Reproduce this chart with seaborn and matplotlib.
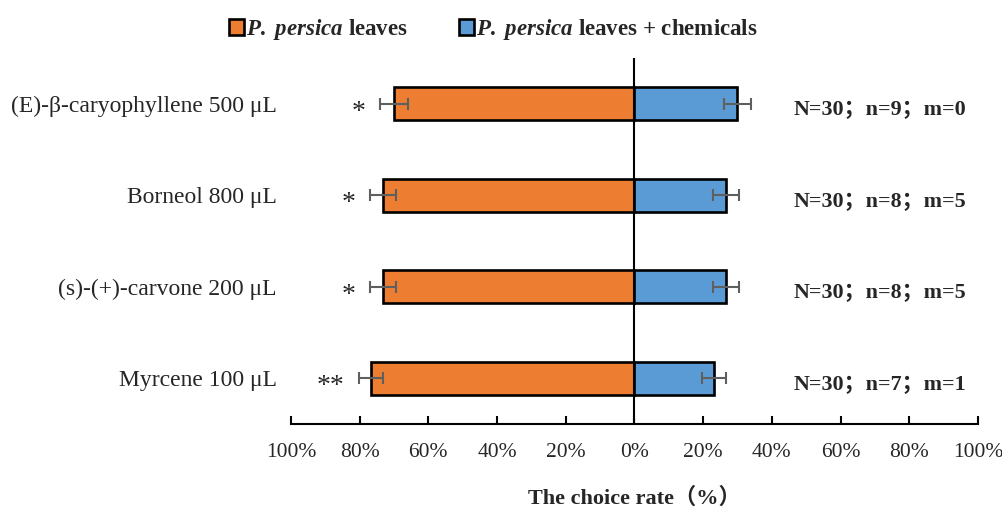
import matplotlib
matplotlib.use("Agg")
import matplotlib.pyplot as plt
import seaborn as sns
import pandas as pd

# Choice-rate data (%) for each tested compound
treatments = ["(E)-β-caryophyllene 500 μL", "Borneol 800 μL",
              "(s)-(+)-carvone 200 μL", "Myrcene 100 μL"]
leaves_rate = [70.0, 73.3, 73.3, 76.7]
leaves_err = [4.0, 3.8, 3.8, 3.4]
chem_rate = [30.0, 26.7, 26.7, 23.3]
chem_err = [4.0, 3.8, 3.8, 3.5]
signif = ["*", "*", "*", "**"]
counts = ["N=30；n=9；m=0", "N=30；n=8；m=5",
          "N=30；n=8；m=5", "N=30；n=7；m=1"]
group_labels = [r"$P.$ $persica$ leaves", r"$P.$ $persica$ leaves + chemicals"]
tick_vals = [-100, -80, -60, -40, -20, 0, 20, 40, 60, 80, 100]

sns.set_style("white")
plt.rcParams["font.family"] = ["Liberation Serif", "Noto Sans CJK SC"]
plt.rcParams["mathtext.fontset"] = "custom"
plt.rcParams["mathtext.it"] = "Liberation Serif:italic:bold"
plt.rcParams["mathtext.rm"] = "Liberation Serif:bold"
plt.rcParams["mathtext.bf"] = "Liberation Serif:bold"

ORANGE = "#ED7D31"
BLUE = "#5B9BD5"

df = pd.DataFrame({
    "treatment": treatments * 2,
    "rate": [-v for v in leaves_rate] + chem_rate,
    "group": [group_labels[0]] * 4 + [group_labels[1]] * 4,
})

fig = plt.figure(figsize=(10.03, 5.14), dpi=100)
ax = fig.add_axes([0.290, 0.175, 0.685, 0.712])

sns.barplot(data=df, x="rate", y="treatment", hue="group", dodge=False,
            orient="h", palette=[ORANGE, BLUE], saturation=1, edgecolor="black",
            linewidth=1.9, width=0.36, errorbar=None, ax=ax)

ypos = list(range(len(treatments)))
ax.errorbar([-v for v in leaves_rate], ypos, xerr=leaves_err, fmt="none",
            ecolor="#5f5f5f", elinewidth=1.5, capsize=4.5, capthick=1.5, zorder=5)
ax.errorbar(chem_rate, ypos, xerr=chem_err, fmt="none",
            ecolor="#5f5f5f", elinewidth=1.5, capsize=4.5, capthick=1.5, zorder=5)

# significance stars and sample counts
for i, (v, e, s, c) in enumerate(zip(leaves_rate, leaves_err, signif, counts)):
    ax.text(-(v + e + 4.2), i + 0.09, s, ha="right", va="center", fontsize=20)
    ax.text(71.5, i + 0.07, c, ha="center", va="center", fontsize=15.8,
            fontweight="bold")

ax.axvline(0, color="black", lw=1.5, zorder=6)
ax.set_xlim(-100, 100)
ax.set_ylim(3.5, -0.5)
ax.set_xticks(tick_vals)
ax.set_xticklabels([f"{abs(t)}%" for t in tick_vals], fontsize=15.5)
ax.tick_params(axis="x", direction="in", length=6, width=1.5, pad=14,
               color="black", bottom=True)
ax.tick_params(axis="y", length=0, pad=10, labelsize=17)
for side in ["left", "right", "top"]:
    ax.spines[side].set_visible(False)
ax.spines["bottom"].set_linewidth(1.5)
ax.spines["bottom"].set_color("black")
ax.set_ylabel("")
ax.set_xlabel("The choice rate（%）", fontsize=16, fontweight="bold", labelpad=18)

handles, labels = ax.get_legend_handles_labels()
ax.get_legend().remove()
fig.legend(handles, labels, loc="upper center", bbox_to_anchor=(0.492, 1.007),
           ncol=2, frameon=False, prop={"weight": "bold", "size": 16.5},
           handlelength=0.65, handleheight=0.65, handletextpad=0.1,
           columnspacing=2.2)

fig.savefig("out.png", dpi=100)
